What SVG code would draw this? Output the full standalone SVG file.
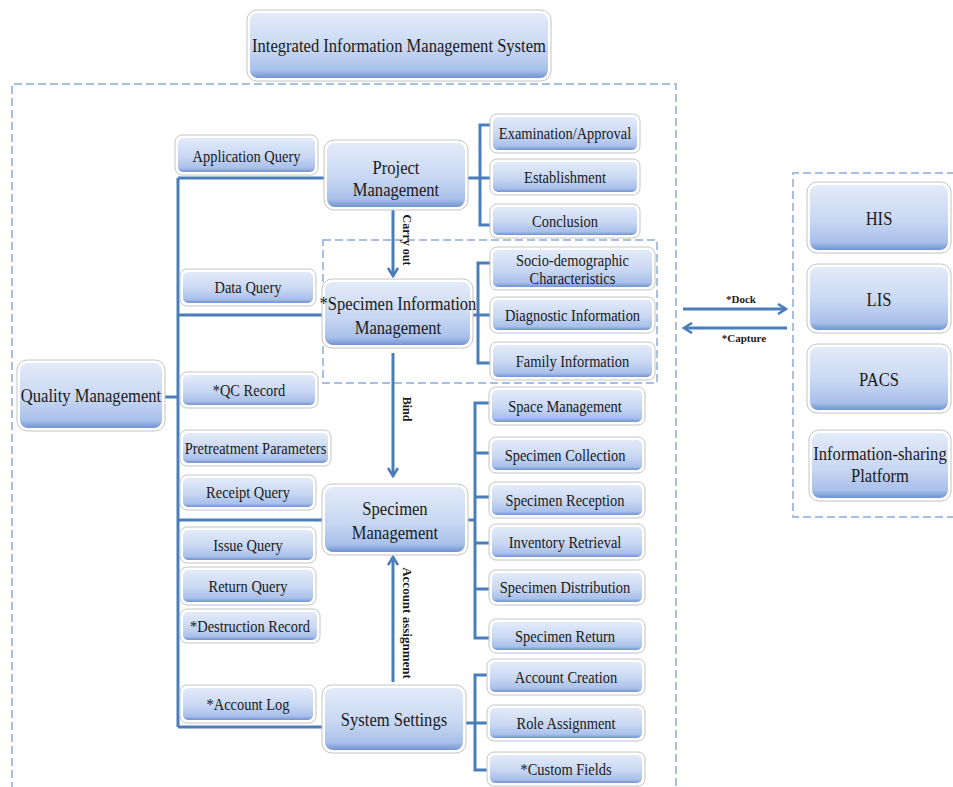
<svg xmlns="http://www.w3.org/2000/svg" width="953" height="787" viewBox="0 0 953 787">
<defs>
<linearGradient id="bx" x1="0" y1="0" x2="0" y2="1">
<stop offset="0" stop-color="#e3ebf9"/>
<stop offset="0.55" stop-color="#c8d7f2"/>
<stop offset="0.88" stop-color="#a9c0ea"/>
<stop offset="1" stop-color="#7193cf"/>
</linearGradient>
<marker id="ah" viewBox="0 0 12 12" refX="10" refY="6" markerWidth="12" markerHeight="12" markerUnits="userSpaceOnUse" orient="auto">
<path d="M2,1 L10,6 L2,11" fill="none" stroke="#4a7ebb" stroke-width="2.6"/>
</marker>
</defs>
<style>
.h{fill:#ffffff;stroke:#c4c4c4;stroke-width:1}
.b{fill:url(#bx);stroke:none}
text{font-family:"Liberation Serif","Times New Roman",serif;fill:#1a1a1a;text-anchor:middle}
.s,.m,.l{transform-box:fill-box;transform-origin:center;transform:scaleX(0.85)}
.s{font-size:17px}
.m{font-size:19.5px}
.l{font-size:19.5px}
.al{font-size:12px;font-weight:bold}
.c{fill:none;stroke:#4a7ebb;stroke-width:3}
.a{fill:none;stroke:#4a7ebb;stroke-width:3;marker-end:url(#ah)}
.d{fill:none;stroke:#a7bfe0;stroke-width:2;stroke-dasharray:8 4}
</style>
<rect width="953" height="787" fill="#ffffff"/>

<g id="frames">
<path class="d" d="M12,790 V84 H676 V790"/>
<rect class="d" x="323" y="240" width="334" height="143"/>
<path class="d" d="M955,173 H793 V517 H955"/>
</g>

<g id="connectors">
<path class="c" d="M178,178 V727"/>
<path class="c" d="M178,178 H327"/>
<path class="c" d="M178,315 H325"/>
<path class="c" d="M162,397 H178"/>
<path class="c" d="M178,520 H325"/>
<path class="c" d="M178,727 H325"/>
<path class="c" d="M465,178 H492 M492,125 H480 V225 H492"/>
<path class="c" d="M470,315 H492 M492,263 H478 V363 H492"/>
<path class="c" d="M465,520 H475 M490,403 H475 V638 H490 M475,453 H490 M475,497 H490 M475,543 H490 M475,589 H490"/>
<path class="c" d="M463,723 H490 M490,675 H475 V770 H490"/>
<path class="a" d="M393,207 V276"/>
<path class="a" d="M393,353 V476"/>
<path class="a" d="M393,682 V557"/>
<path class="a" d="M683,309 H786"/>
<path class="a" d="M787,328 H684"/>
<text class="al" transform="translate(403,240) rotate(90)">Carry out</text>
<text class="al" transform="translate(403,409) rotate(90)">Bind</text>
<text class="al" style="font-size:13px" transform="translate(403,623) rotate(90)">Account assignment</text>
<text class="al" style="font-size:11px" x="741" y="303">*Dock</text>
<text class="al" style="font-size:11px" x="744" y="342">*Capture</text>
</g>

<g id="title"><rect class="h" x="247" y="10" width="304" height="71" rx="10"/><rect class="b" x="250" y="13" width="298" height="65" rx="8"/><text class="l" x="399" y="52">Integrated Information Management System</text></g>

<g id="appQuery"><rect class="h" x="175" y="135" width="143" height="40" rx="7"/><rect class="b" x="178" y="138" width="137" height="34" rx="5"/><text class="s" x="246.5" y="162">Application Query</text></g>
<g id="project"><rect class="h" x="324" y="140" width="144" height="70" rx="10"/><rect class="b" x="327" y="143" width="138" height="64" rx="8"/><text class="l" x="396" y="174">Project</text><text class="l" x="396" y="196">Management</text></g>
<g id="exam"><rect class="h" x="490" y="114" width="150" height="39" rx="7"/><rect class="b" x="493" y="117" width="144" height="33" rx="5"/><text class="s" x="565" y="139">Examination/Approval</text></g>
<g id="establishment"><rect class="h" x="490" y="159" width="150" height="36" rx="7"/><rect class="b" x="493" y="162" width="144" height="30" rx="5"/><text class="s" x="565" y="183">Establishment</text></g>
<g id="conclusion"><rect class="h" x="490" y="204" width="150" height="34" rx="7"/><rect class="b" x="493" y="207" width="144" height="28" rx="5"/><text class="s" x="565" y="227">Conclusion</text></g>

<g id="dataQuery"><rect class="h" x="180" y="269" width="136" height="37" rx="7"/><rect class="b" x="183" y="272" width="130" height="31" rx="5"/><text class="s" x="248" y="293">Data Query</text></g>
<g id="specInfo"><rect class="h" x="322" y="279" width="151" height="69" rx="10"/><rect class="b" x="325" y="282" width="145" height="63" rx="8"/><text class="m" x="398" y="310">*Specimen Information</text><text class="m" x="398" y="334">Management</text></g>
<g id="socio"><rect class="h" x="490" y="247" width="165" height="43" rx="7"/><rect class="b" x="493" y="250" width="159" height="37" rx="5"/><text class="s" x="572.5" y="266">Socio-demographic</text><text class="s" x="572.5" y="284">Characteristics</text></g>
<g id="diag"><rect class="h" x="490" y="297" width="165" height="36" rx="7"/><rect class="b" x="493" y="300" width="159" height="30" rx="5"/><text class="s" x="572.5" y="321">Diagnostic Information</text></g>
<g id="family"><rect class="h" x="490" y="342" width="165" height="38" rx="7"/><rect class="b" x="493" y="345" width="159" height="32" rx="5"/><text class="s" x="572.5" y="367">Family Information</text></g>

<g id="quality"><rect class="h" x="17" y="360" width="148" height="71" rx="10"/><rect class="b" x="20" y="363" width="142" height="65" rx="8"/><text class="m" x="91" y="402">Quality Management</text></g>
<g id="qc"><rect class="h" x="180" y="372" width="138" height="36" rx="7"/><rect class="b" x="183" y="375" width="132" height="30" rx="5"/><text class="s" x="249" y="396">*QC Record</text></g>
<g id="pretreat"><rect class="h" x="180" y="430" width="151" height="36" rx="7"/><rect class="b" x="183" y="433" width="145" height="30" rx="5"/><text class="s" x="255.5" y="454">Pretreatment Parameters</text></g>
<g id="receipt"><rect class="h" x="180" y="475" width="136" height="35" rx="7"/><rect class="b" x="183" y="478" width="130" height="29" rx="5"/><text class="s" x="248" y="498">Receipt Query</text></g>

<g id="specMgmt"><rect class="h" x="322" y="484" width="146" height="71" rx="10"/><rect class="b" x="325" y="487" width="140" height="65" rx="8"/><text class="l" x="395" y="515">Specimen</text><text class="l" x="395" y="539">Management</text></g>
<g id="space"><rect class="h" x="489" y="387" width="156" height="38" rx="7"/><rect class="b" x="492" y="390" width="150" height="32" rx="5"/><text class="s" x="565" y="412">Space Management</text></g>
<g id="collection"><rect class="h" x="489" y="437" width="156" height="36" rx="7"/><rect class="b" x="492" y="440" width="150" height="30" rx="5"/><text class="s" x="565" y="461">Specimen Collection</text></g>
<g id="reception"><rect class="h" x="489" y="482" width="156" height="36" rx="7"/><rect class="b" x="492" y="485" width="150" height="30" rx="5"/><text class="s" x="565" y="506">Specimen Reception</text></g>
<g id="inventory"><rect class="h" x="489" y="524" width="156" height="36" rx="7"/><rect class="b" x="492" y="527" width="150" height="30" rx="5"/><text class="s" x="565" y="548">Inventory Retrieval</text></g>
<g id="distribution"><rect class="h" x="489" y="570" width="156" height="35" rx="7"/><rect class="b" x="492" y="573" width="150" height="29" rx="5"/><text class="s" x="565" y="593">Specimen Distribution</text></g>
<g id="return"><rect class="h" x="489" y="619" width="156" height="34" rx="7"/><rect class="b" x="492" y="622" width="150" height="28" rx="5"/><text class="s" x="565" y="642">Specimen Return</text></g>

<g id="issueQ"><rect class="h" x="180" y="527" width="136" height="36" rx="7"/><rect class="b" x="183" y="530" width="130" height="30" rx="5"/><text class="s" x="248" y="551">Issue Query</text></g>
<g id="returnQ"><rect class="h" x="180" y="567" width="136" height="38" rx="7"/><rect class="b" x="183" y="570" width="130" height="32" rx="5"/><text class="s" x="248" y="592">Return Query</text></g>
<g id="destruction"><rect class="h" x="180" y="609" width="140" height="34" rx="7"/><rect class="b" x="183" y="612" width="134" height="28" rx="5"/><text class="s" x="250" y="632">*Destruction Record</text></g>
<g id="accountLog"><rect class="h" x="180" y="685" width="136" height="38" rx="7"/><rect class="b" x="183" y="688" width="130" height="32" rx="5"/><text class="s" x="248" y="710">*Account Log</text></g>

<g id="sysSettings"><rect class="h" x="322" y="685" width="144" height="68" rx="10"/><rect class="b" x="325" y="688" width="138" height="62" rx="8"/><text class="l" x="394" y="726">System Settings</text></g>
<g id="accountCreation"><rect class="h" x="487" y="659" width="158" height="36" rx="7"/><rect class="b" x="490" y="662" width="152" height="30" rx="5"/><text class="s" x="566" y="683">Account Creation</text></g>
<g id="role"><rect class="h" x="487" y="705" width="158" height="36" rx="7"/><rect class="b" x="490" y="708" width="152" height="30" rx="5"/><text class="s" x="566" y="729">Role Assignment</text></g>
<g id="custom"><rect class="h" x="487" y="752" width="158" height="34" rx="7"/><rect class="b" x="490" y="755" width="152" height="28" rx="5"/><text class="s" x="566" y="775">*Custom Fields</text></g>

<g id="his"><rect class="h" x="807" y="182" width="144" height="71" rx="10"/><rect class="b" x="810" y="185" width="138" height="65" rx="8"/><text class="l" x="879" y="225">HIS</text></g>
<g id="lis"><rect class="h" x="807" y="264" width="144" height="69" rx="10"/><rect class="b" x="810" y="267" width="138" height="63" rx="8"/><text class="l" x="879" y="306">LIS</text></g>
<g id="pacs"><rect class="h" x="807" y="344" width="144" height="69" rx="10"/><rect class="b" x="810" y="347" width="138" height="63" rx="8"/><text class="l" x="879" y="386">PACS</text></g>
<g id="infoShare"><rect class="h" x="809" y="430" width="142" height="71" rx="10"/><rect class="b" x="812" y="433" width="136" height="65" rx="8"/><text class="m" x="880" y="460">Information-sharing</text><text class="m" x="880" y="482">Platform</text></g>
</svg>
